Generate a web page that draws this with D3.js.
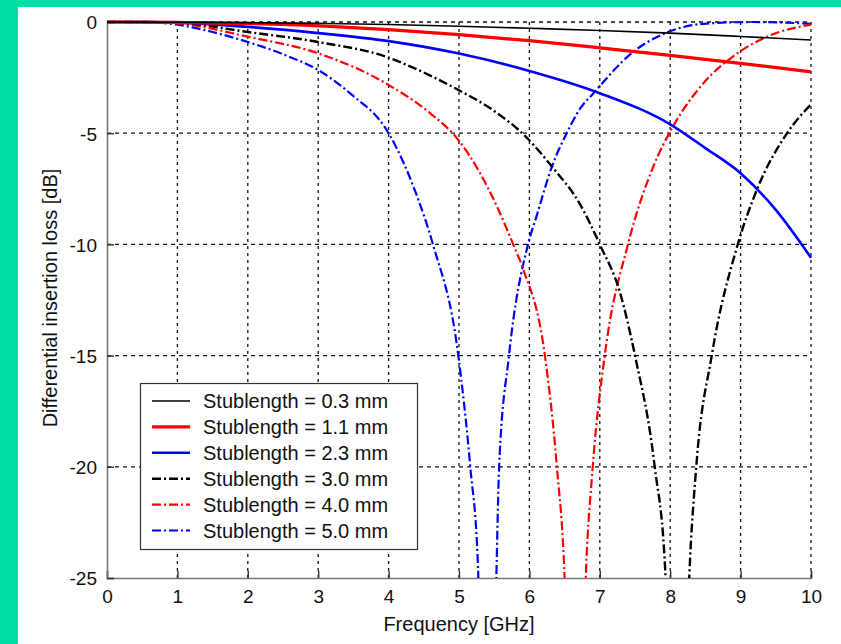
<!DOCTYPE html>
<html><head><meta charset="utf-8">
<script src="https://cdn.jsdelivr.net/npm/d3@7"></script>
<style>
html,body{margin:0;padding:0;background:#00dda5;}
svg{display:block;}
text{font-family:"Liberation Sans",Arial,sans-serif;fill:#111;}
</style></head>
<body>
<svg id="chart" width="841" height="644"></svg>
<script>
// ---- data (frequency GHz, insertion loss dB) ----
const xTicks = [0,1,2,3,4,5,6,7,8,9,10];
const yTicks = [0,-5,-10,-15,-20,-25];
const seriesNames = ["Stublength = 0.3 mm","Stublength = 1.1 mm","Stublength = 2.3 mm",
                     "Stublength = 3.0 mm","Stublength = 4.0 mm","Stublength = 5.0 mm"];
const stub03 = [[0,0],[1,-0.01],[2,-0.03],[3,-0.06],[4,-0.11],[5,-0.19],[6,-0.28],[7,-0.38],[8,-0.5],[9,-0.65],[10,-0.81]];
const stub11 = [[0,0],[1,-0.02],[2,-0.07],[3,-0.17],[4,-0.34],[5,-0.57],[6,-0.84],[7,-1.16],[8,-1.5],[9,-1.86],[10,-2.24]];
const stub23 = [[0,0],[0.6,0],[1,-0.03],[2,-0.22],[3,-0.5],[4,-0.86],[5,-1.42],[6,-2.2],[7,-3.2],[8,-4.6],[8.5,-5.67],[9,-6.8],[9.5,-8.45],[10,-10.6]];
const stub30 = [[0,0],[0.5,0],[1,-0.03],[2,-0.45],[3,-0.9],[4,-1.6],[4.45,-2.2],[4.97,-3.02],[5.5,-4.0],[5.93,-5.1],[6.32,-6.5],[6.72,-8.2],[7.0,-10],[7.29,-12.2],[7.5,-15],[7.78,-20],[7.93,-24.7],[8.1,-45],[8.27,-25],[8.37,-20],[8.59,-15],[8.96,-10],[9.23,-7.55],[9.66,-5.0],[10,-3.7]];
const stub40 = [[0,0],[0.5,0],[1,-0.06],[2,-0.66],[3,-1.41],[4,-2.83],[4.59,-4.1],[4.99,-5.3],[5.3,-6.8],[5.54,-8.3],[5.77,-10],[5.91,-11.1],[6.22,-15],[6.39,-20],[6.5,-25],[6.65,-45],[6.8,-25],[6.9,-20],[7.07,-15],[7.4,-10],[7.76,-6.5],[8.04,-4.7],[8.47,-2.76],[8.9,-1.53],[9.42,-0.6],[10,-0.12]];
const stub50 = [[0,0],[0.5,0],[1,-0.12],[1.5,-0.45],[2,-0.9],[2.5,-1.45],[3,-2.16],[3.45,-3.2],[4,-5.0],[4.4,-7.8],[4.63,-10],[4.99,-15],[5.16,-20],[5.27,-24.5],[5.4,-45],[5.53,-25],[5.57,-20],[5.71,-15],[5.98,-10],[6.1,-8.75],[6.32,-6.5],[6.53,-5],[6.72,-3.9],[6.91,-3.2],[7.48,-1.33],[7.97,-0.45],[8.47,-0.08],[9.18,0],[10,-0.08]];
const seriesData = [stub03, stub11, stub23, stub30, stub40, stub50];
const seriesColors = ["#000000","#ff0000","#0000ff","#000000","#ff0000","#0000ff"];

// ---- styles ----
const widths = [1.6,3.2,2.6,2.4,2.2,2.2];
const dashes = [null,null,null,"9,3,2,3","9,3,2,3","9,3,2,3"];

const svg = d3.select("#chart");
svg.append("rect").attr("x",0).attr("y",0).attr("width",841).attr("height",644).attr("fill","#00dda5");
svg.append("rect").attr("x",18).attr("y",7).attr("width",823).attr("height",637).attr("fill","#ffffff");

const x = d3.scaleLinear().domain([0,10]).range([107,811]);
const y = d3.scaleLinear().domain([-25,0]).range([578,22]);

svg.append("defs").append("clipPath").attr("id","clip")
  .append("rect").attr("x",107).attr("y",20).attr("width",706).attr("height",558);

// grid
const grid = svg.append("g");
grid.selectAll("line.v").data(xTicks.filter(d=>d>0)).enter().append("line")
  .attr("x1",d=>x(d)).attr("x2",d=>x(d)).attr("y1",y(0)).attr("y2",y(-25))
  .attr("stroke","#111").attr("stroke-width",1.3).attr("stroke-dasharray","3,4");
grid.selectAll("line.h").data(yTicks.filter(d=>d>-25)).enter().append("line")
  .attr("x1",x(0)).attr("x2",x(10)).attr("y1",d=>y(d)).attr("y2",d=>y(d))
  .attr("stroke","#111").attr("stroke-width",1.3).attr("stroke-dasharray","4,4");

// axes
const xAxis = d3.axisBottom(x).tickValues(xTicks).tickSize(-7).tickPadding(12).tickFormat(d3.format("d"));
const yAxis = d3.axisLeft(y).tickValues(yTicks).tickSize(-7).tickPadding(10).tickFormat(d=>d===0?"0":String(d));
const gx = svg.append("g").attr("transform",`translate(0,${y(-25)})`).call(xAxis);
const gy = svg.append("g").attr("transform",`translate(${x(0)},0)`).call(yAxis);
[gx,gy].forEach(g=>{
  g.select(".domain").attr("stroke","#777").attr("stroke-width",1.6);
  g.selectAll(".tick line").attr("stroke","#333").attr("stroke-width",1.4);
  g.selectAll(".tick text").attr("font-size",19).attr("fill","#222")
    .style("font-family","'Liberation Sans',Arial,sans-serif");
});
gy.selectAll(".tick text").attr("dy","0.36em");

// series
const line = d3.line().x(d=>x(d[0])).y(d=>y(d[1])).curve(d3.curveMonotoneX);
const plot = svg.append("g").attr("clip-path","url(#clip)");
const order = [5,4,3,2,1,0];
order.forEach(i=>{
  plot.append("path").datum(seriesData[i]).attr("d",line)
    .attr("fill","none").attr("stroke",seriesColors[i]).attr("stroke-width",widths[i])
    .attr("stroke-dasharray",dashes[i]).attr("stroke-linejoin","round");
});

// axis labels
svg.append("text").attr("x",459).attr("y",631).attr("text-anchor","middle")
  .attr("font-size",20).attr("fill","#222").text("Frequency [GHz]");
svg.append("text").attr("transform","translate(57,298) rotate(-90)").attr("text-anchor","middle")
  .attr("font-size",20).attr("fill","#222").text("Differential insertion loss [dB]");

// legend
const lg = svg.append("g");
lg.append("rect").attr("x",140.5).attr("y",383.5).attr("width",277).attr("height",166)
  .attr("fill","#fff").attr("stroke","#333").attr("stroke-width",1.2);
seriesNames.forEach((name,i)=>{
  const yy = 401 + i*25.9;
  lg.append("line").attr("x1",152).attr("x2",190).attr("y1",yy).attr("y2",yy)
    .attr("stroke",seriesColors[i]).attr("stroke-width",widths[i]).attr("stroke-dasharray",dashes[i]);
  lg.append("text").attr("x",203).attr("y",yy+7).attr("font-size",20).attr("fill","#222").text(name);
});
</script>
</body></html>
